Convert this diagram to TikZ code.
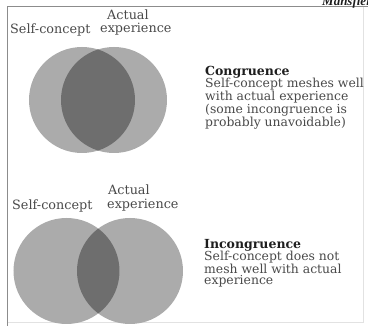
\documentclass[tikz,border=0pt]{standalone}
\usepackage{fontspec}
\setmainfont{DejaVu Serif}
\newfontfamily\mansfont{Liberation Serif}
\definecolor{circ}{HTML}{ABABAB}
\definecolor{lens}{HTML}{6E6E6E}
\definecolor{txt}{HTML}{4A4A4A}
\definecolor{head}{HTML}{1E1E1E}
\definecolor{frameA}{HTML}{8C8C8C}
\definecolor{frameB}{HTML}{E2E2E2}
\begin{document}
\begin{tikzpicture}[x=1pt,y=-1pt,
  lbl/.style={inner sep=0pt, anchor=base west, text=txt, font=\fontsize{12.8}{12}\selectfont},
  headlbl/.style={inner sep=0pt, anchor=base west, text=head, font=\fontsize{12.5}{11.5}\selectfont\bfseries},
  bodylbl/.style={inner sep=0pt, anchor=north west, text=txt, align=left, font=\fontsize{12.4}{11.5}\selectfont}]
\useasboundingbox (0,0) rectangle (368,326);
\fill[white] (0,0) rectangle (368,326);
% frame
\draw[frameB, line width=0.8pt] (363,7) -- (363,322) -- (7.5,322);
\draw[frameA, line width=1pt] (7.5,326) -- (7.5,7) -- (368,7);
% running head
\node[inner sep=0pt, anchor=base west, font=\mansfont\fontsize{13}{13}\selectfont\itshape\bfseries, text=head] (mans) at (322,5.5) {Mansfiel};
% top diagram
\fill[circ] (82,100) circle (53);
\fill[circ] (114,100) circle (53);
\begin{scope}
  \clip (82,100) circle (53);
  \fill[lens] (114,100) circle (53);
\end{scope}
\node[lbl] (selfA) at (10,34) {Self-concept};
\node[lbl] (actA) at (107,20) {Actual};
\node[lbl] (expA) at (100,33) {experience};
\node[headlbl] (congH) at (205,76) {Congruence};
\node[bodylbl] (congB) at (205,78) {Self-concept meshes well\\with actual experience\\(some incongruence is\\probably unavoidable)};
% bottom diagram
\fill[circ] (66.5,271) circle (53);
\fill[circ] (130,271) circle (53);
\begin{scope}
  \clip (66.5,271) circle (53);
  \fill[lens] (130,271) circle (53);
\end{scope}
\node[lbl] (selfB) at (12,210) {Self-concept};
\node[lbl] (actB) at (108,195) {Actual};
\node[lbl] (expB) at (107,209) {experience};
\node[headlbl] (incH) at (204,248.5) {Incongruence};
\node[bodylbl] (incB) at (204,250.5) {Self-concept does not\\mesh well with actual\\experience};
\end{tikzpicture}
\end{document}
